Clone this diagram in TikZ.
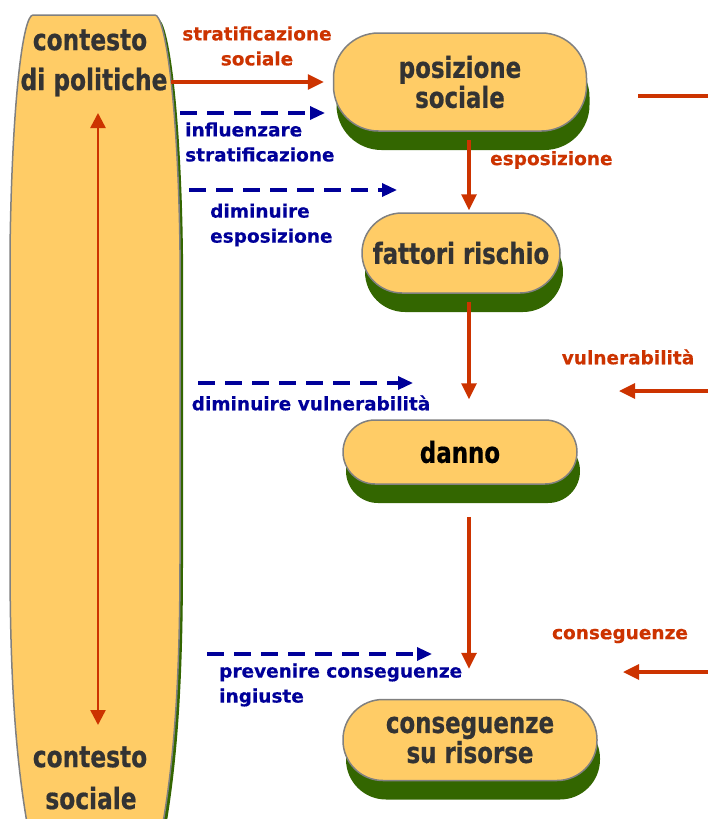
\documentclass[tikz,border=0pt]{standalone}
\usepackage{fontspec}
\setmainfont[BoldFeatures={FakeBold=0.4}]{DejaVu Sans}
\newfontfamily\pillfont[FakeStretch=0.79, BoldFeatures={FakeBold=0.6}]{DejaVu Sans}
\usetikzlibrary{arrows.meta,shadows}
\definecolor{pillfill}{HTML}{FFCC66}
\definecolor{pillshade}{HTML}{336600}
\definecolor{flowred}{HTML}{CC3300}
\definecolor{policyblue}{HTML}{000099}
\definecolor{boxtext}{HTML}{333333}

\begin{document}
\begin{tikzpicture}[x=1pt, y=-1pt,
    pill/.style={draw=gray, line width=1.5pt, fill=pillfill, rounded corners=40pt, align=center, inner sep=0pt,
        text=boxtext, font=\pillfont\fontsize{29}{30}\selectfont\bfseries,
        general shadow={fill=pillshade, shadow xshift=3pt, shadow yshift=-19pt}},
    ctxtext/.style={text=boxtext, font=\pillfont\fontsize{29.5}{30}\selectfont\bfseries},
    redlabel/.style={text=flowred, align=center, inner sep=0pt, font=\fontsize{18.5}{25}\selectfont\bfseries},
    bluelabel/.style={text=policyblue, align=left, inner sep=0pt, font=\fontsize{18.5}{25}\selectfont\bfseries},
    flow/.style={draw=flowred, line width=3.3pt, -{Triangle[length=16pt,width=15pt]}},
    policy/.style={draw=policyblue, line width=3.3pt, dash pattern=on 17pt off 10pt, -{Triangle[length=15pt,width=13pt]}}]
    \useasboundingbox (0,0) rectangle (708,819);

    % policy context column
    \begin{scope}
        \clip (0,0) rectangle (708,819);
        \fill[pillshade, shift={(3,4)}] (33,15) -- (155,15) .. controls (165,15) and (178,100) .. (180,250)
            -- (180,560) .. controls (180,700) and (172,780) .. (158,850) -- (32,850)
            .. controls (18,780) and (10,700) .. (10,560) -- (10,250) .. controls (12,100) and (23,15) .. (33,15) -- cycle;
        \filldraw[fill=pillfill, draw=gray, line width=1.5pt] (33,15) -- (155,15) .. controls (165,15) and (178,100) .. (180,250)
            -- (180,560) .. controls (180,700) and (172,780) .. (158,850) -- (32,850)
            .. controls (18,780) and (10,700) .. (10,560) -- (10,250) .. controls (12,100) and (23,15) .. (33,15) -- cycle;
    \end{scope}
    \node[ctxtext] (ctxtop) at (90,40) {contesto};
    \node[ctxtext] (politiche) at (94,82) {di politiche};
    \node[ctxtext] (ctxbot) at (90,757) {contesto};
    \node[ctxtext] (sociale) at (91,798) {sociale};
    \coordinate (ctxup) at (98,113);
    \coordinate (ctxdown) at (98,725);
    \draw[flow, line width=2.5pt, {Triangle[length=15pt,width=15pt]}-{Triangle[length=15pt,width=15pt]}] (ctxup) -- (ctxdown);

    % main chain
    \node[pill, minimum width=253pt, minimum height=98pt, rounded corners=45pt] (pos) at (460,82) {posizione\\sociale};
    \node[pill, minimum width=198pt, minimum height=80pt] (risk) at (461,253) {fattori rischio};
    \node[pill, minimum width=234pt, minimum height=64pt, rounded corners=32pt, text=black] (harm) at (460,452) {danno};
    \node[pill, minimum width=254pt, minimum height=81pt] (conseq) at (470,740) {conseguenze\\su risorse};
    \coordinate (axis) at (469,0);
    \draw[flow, shorten <=8pt, shorten >=2pt] (pos.south -| axis) -- (risk.north -| axis);
    \draw[flow, shorten <=8pt, shorten >=20pt] (risk.south -| axis) -- (harm.north -| axis);
    \draw[flow, shorten <=32pt, shorten >=30pt] (harm.south -| axis) -- (conseq.north -| axis);
    \draw[flow, shorten >=9pt] (politiche.east) -- (politiche.east -| pos.west);

    % red labels and side arrows
    \node[redlabel] (stratlbl) at (257,46) {stratificazione\\sociale};
    \node[redlabel, anchor=west] (exposlbl) at (490,160) {esposizione};
    \node[redlabel] (vulnlbl) at (628,357) {vulnerabilità};
    \node[redlabel] (conslbl) at (620,636) {conseguenze};
    \coordinate (posline0) at (638,96);
    \coordinate (posline1) at (708,96);
    \draw[flowred, line width=3.3pt] (posline0) -- (posline1);
    \coordinate (vuln0) at (708,391);
    \coordinate (vuln1) at (619,391);
    \draw[flow] (vuln0) -- (vuln1);
    \coordinate (cons0) at (708,672);
    \coordinate (cons1) at (623,672);
    \draw[flow] (cons0) -- (cons1);

    % policy entry points
    \node[bluelabel, anchor=west] (influlbl) at (185,142) {influenzare\\stratificazione};
    \node[bluelabel, anchor=west] (dimexplbl) at (210,225) {diminuire\\esposizione};
    \node[bluelabel] (dimvullbl) at (311,403) {diminuire vulnerabilità};
    \node[bluelabel, anchor=west] (prevlbl) at (219,685) {prevenire conseguenze\\ingiuste};
    \coordinate (influ0) at (180,113);
    \coordinate (influ1) at (325,113);
    \draw[policy] (influ0) -- (influ1);
    \coordinate (dimexp0) at (189,190);
    \coordinate (dimexp1) at (397,190);
    \draw[policy] (dimexp0) -- (dimexp1);
    \coordinate (dimvul0) at (198,383);
    \coordinate (dimvul1) at (413,383);
    \draw[policy] (dimvul0) -- (dimvul1);
    \coordinate (prev0) at (207,654);
    \coordinate (prev1) at (432,654);
    \draw[policy] (prev0) -- (prev1);
\end{tikzpicture}
\end{document}
